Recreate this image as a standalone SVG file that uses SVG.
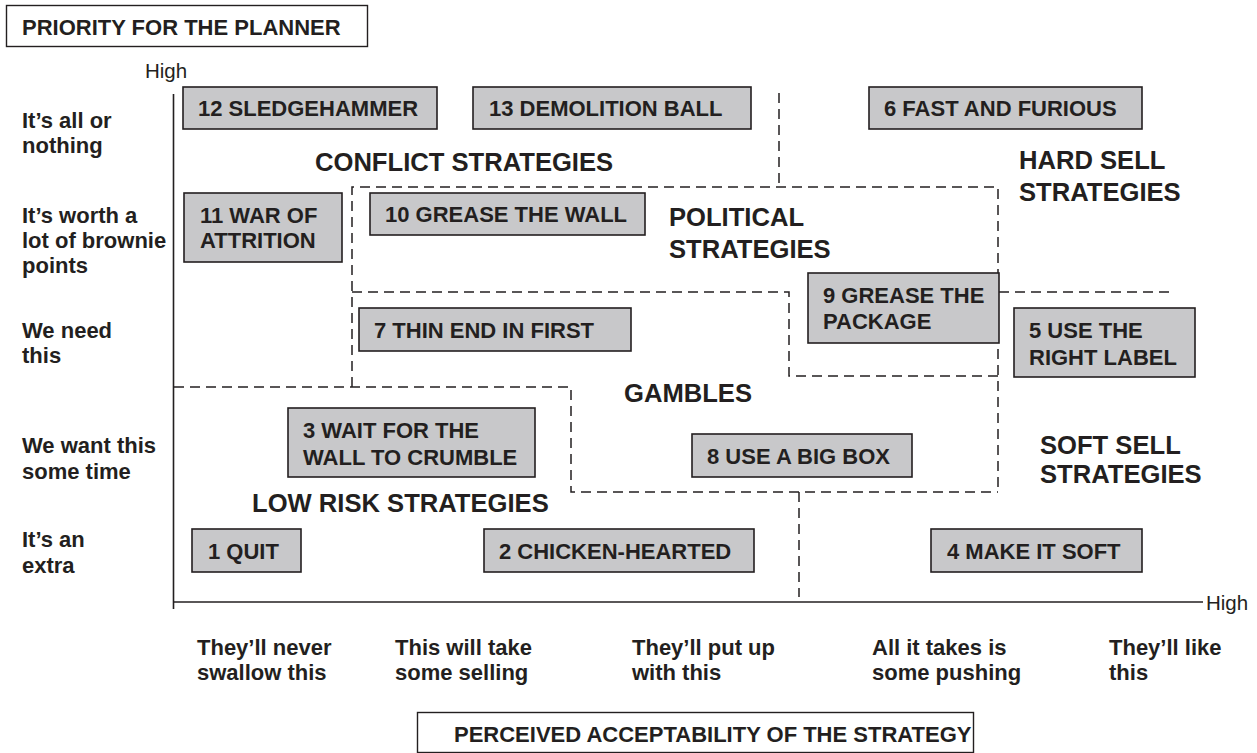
<svg xmlns="http://www.w3.org/2000/svg" width="1257" height="753" viewBox="0 0 1257 753">
  <style>
    text { font-family: "Liberation Sans", Arial, sans-serif; fill: #231f20; }
    .lbl { font-size: 22px; font-weight: bold; }
    .head { font-size: 25.6px; font-weight: bold; }
    .axis-end { font-size: 20.5px; }
    .box { fill: #c8c8ca; stroke: #231f20; stroke-width: 1.6; }
    .frame { fill: #ffffff; stroke: #231f20; stroke-width: 1.4; }
    .axis { stroke: #231f20; stroke-width: 1.6; fill: none; }
    .zone { stroke: #231f20; stroke-width: 1.5; fill: none; stroke-dasharray: 10 6; }
  </style>

  <rect width="1257" height="753" fill="#ffffff"/>

  <!-- axis titles -->
  <g id="title-priority">
    <rect class="frame" x="6.5" y="5.5" width="361" height="41"/>
    <text class="lbl" x="22" y="35">PRIORITY FOR THE PLANNER</text>
  </g>
  <g id="title-acceptability">
    <rect class="frame" x="417.5" y="712.5" width="556" height="40"/>
    <text class="lbl" x="454" y="742" font-size="21.3">PERCEIVED ACCEPTABILITY OF THE STRATEGY</text>
  </g>

  <!-- axes -->
  <g id="axes">
    <line class="axis" x1="173.5" y1="94" x2="173.5" y2="609"/>
    <line class="axis" x1="173" y1="602" x2="1203" y2="602"/>
    <text class="axis-end" x="145" y="78">High</text>
    <text class="axis-end" x="1206" y="610">High</text>
  </g>

  <!-- priority scale -->
  <g id="priority-levels" class="lbl">
    <text class="lbl" x="22" y="128">It’s all or</text>
    <text class="lbl" x="22" y="153">nothing</text>
    <text class="lbl" x="22" y="223">It’s worth a</text>
    <text class="lbl" x="22" y="248">lot of brownie</text>
    <text class="lbl" x="22" y="273">points</text>
    <text class="lbl" x="22" y="338">We need</text>
    <text class="lbl" x="22" y="363">this</text>
    <text class="lbl" x="22" y="453">We want this</text>
    <text class="lbl" x="22" y="479">some time</text>
    <text class="lbl" x="22" y="547">It’s an</text>
    <text class="lbl" x="22" y="573">extra</text>
  </g>

  <!-- acceptability scale -->
  <g id="acceptability-levels">
    <text class="lbl" x="197" y="655">They’ll never</text>
    <text class="lbl" x="197" y="680">swallow this</text>
    <text class="lbl" x="395" y="655">This will take</text>
    <text class="lbl" x="395" y="680">some selling</text>
    <text class="lbl" x="632" y="655">They’ll put up</text>
    <text class="lbl" x="632" y="680">with this</text>
    <text class="lbl" x="872" y="655">All it takes is</text>
    <text class="lbl" x="872" y="680">some pushing</text>
    <text class="lbl" x="1109" y="655">They’ll like</text>
    <text class="lbl" x="1109" y="680">this</text>
  </g>

  <!-- dashed zone boundaries -->
  <g id="zone-boundaries">
    <path class="zone" d="M779 93 V187"/>
    <path class="zone" d="M352 387 V187 H998 V492"/>
    <path class="zone" d="M352 292 H789 V376 H998"/>
    <path class="zone" d="M999 292 H1173"/>
    <path class="zone" d="M174 387 H571 V492 H998"/>
    <path class="zone" d="M799 492 V597"/>
  </g>

  <!-- zone headings -->
  <g id="zone-headings">
    <text class="head" x="315" y="171">CONFLICT STRATEGIES</text>
    <text class="head" x="1019" y="169">HARD SELL</text>
    <text class="head" x="1019" y="201">STRATEGIES</text>
    <text class="head" x="669" y="226">POLITICAL</text>
    <text class="head" x="669" y="258">STRATEGIES</text>
    <text class="head" x="624" y="402">GAMBLES</text>
    <text class="head" x="1040" y="454">SOFT SELL</text>
    <text class="head" x="1040" y="483">STRATEGIES</text>
    <text class="head" x="252" y="512">LOW RISK STRATEGIES</text>
  </g>

  <!-- strategies -->
  <g id="s12">
    <rect class="box" x="183" y="87" width="254" height="42"/>
    <text class="lbl" x="198" y="116">12 SLEDGEHAMMER</text>
  </g>
  <g id="s13">
    <rect class="box" x="473" y="87" width="278" height="42"/>
    <text class="lbl" x="489" y="116">13 DEMOLITION BALL</text>
  </g>
  <g id="s6">
    <rect class="box" x="869" y="87" width="273" height="42"/>
    <text class="lbl" x="884" y="116">6 FAST AND FURIOUS</text>
  </g>
  <g id="s11">
    <rect class="box" x="184" y="193" width="158" height="69"/>
    <text class="lbl" x="200" y="223">11 WAR OF</text>
    <text class="lbl" x="200" y="248">ATTRITION</text>
  </g>
  <g id="s10">
    <rect class="box" x="370" y="193" width="275" height="42"/>
    <text class="lbl" x="385" y="222">10 GREASE THE WALL</text>
  </g>
  <g id="s9">
    <rect class="box" x="808" y="273" width="191" height="70"/>
    <text class="lbl" x="823" y="303">9 GREASE THE</text>
    <text class="lbl" x="823" y="329">PACKAGE</text>
  </g>
  <g id="s7">
    <rect class="box" x="359" y="308" width="272" height="43"/>
    <text class="lbl" x="374" y="338">7 THIN END IN FIRST</text>
  </g>
  <g id="s5">
    <rect class="box" x="1014" y="308" width="181" height="69"/>
    <text class="lbl" x="1029" y="338">5 USE THE</text>
    <text class="lbl" x="1029" y="365">RIGHT LABEL</text>
  </g>
  <g id="s3">
    <rect class="box" x="288" y="408" width="247" height="69"/>
    <text class="lbl" x="303" y="438">3 WAIT FOR THE</text>
    <text class="lbl" x="303" y="465">WALL TO CRUMBLE</text>
  </g>
  <g id="s8">
    <rect class="box" x="692" y="434" width="220" height="43"/>
    <text class="lbl" x="707" y="464">8 USE A BIG BOX</text>
  </g>
  <g id="s1">
    <rect class="box" x="192" y="529" width="109" height="43"/>
    <text class="lbl" x="208" y="559">1 QUIT</text>
  </g>
  <g id="s2">
    <rect class="box" x="484" y="529" width="270" height="43"/>
    <text class="lbl" x="499" y="559">2 CHICKEN-HEARTED</text>
  </g>
  <g id="s4">
    <rect class="box" x="931" y="529" width="211" height="43"/>
    <text class="lbl" x="947" y="559">4 MAKE IT SOFT</text>
  </g>
</svg>
